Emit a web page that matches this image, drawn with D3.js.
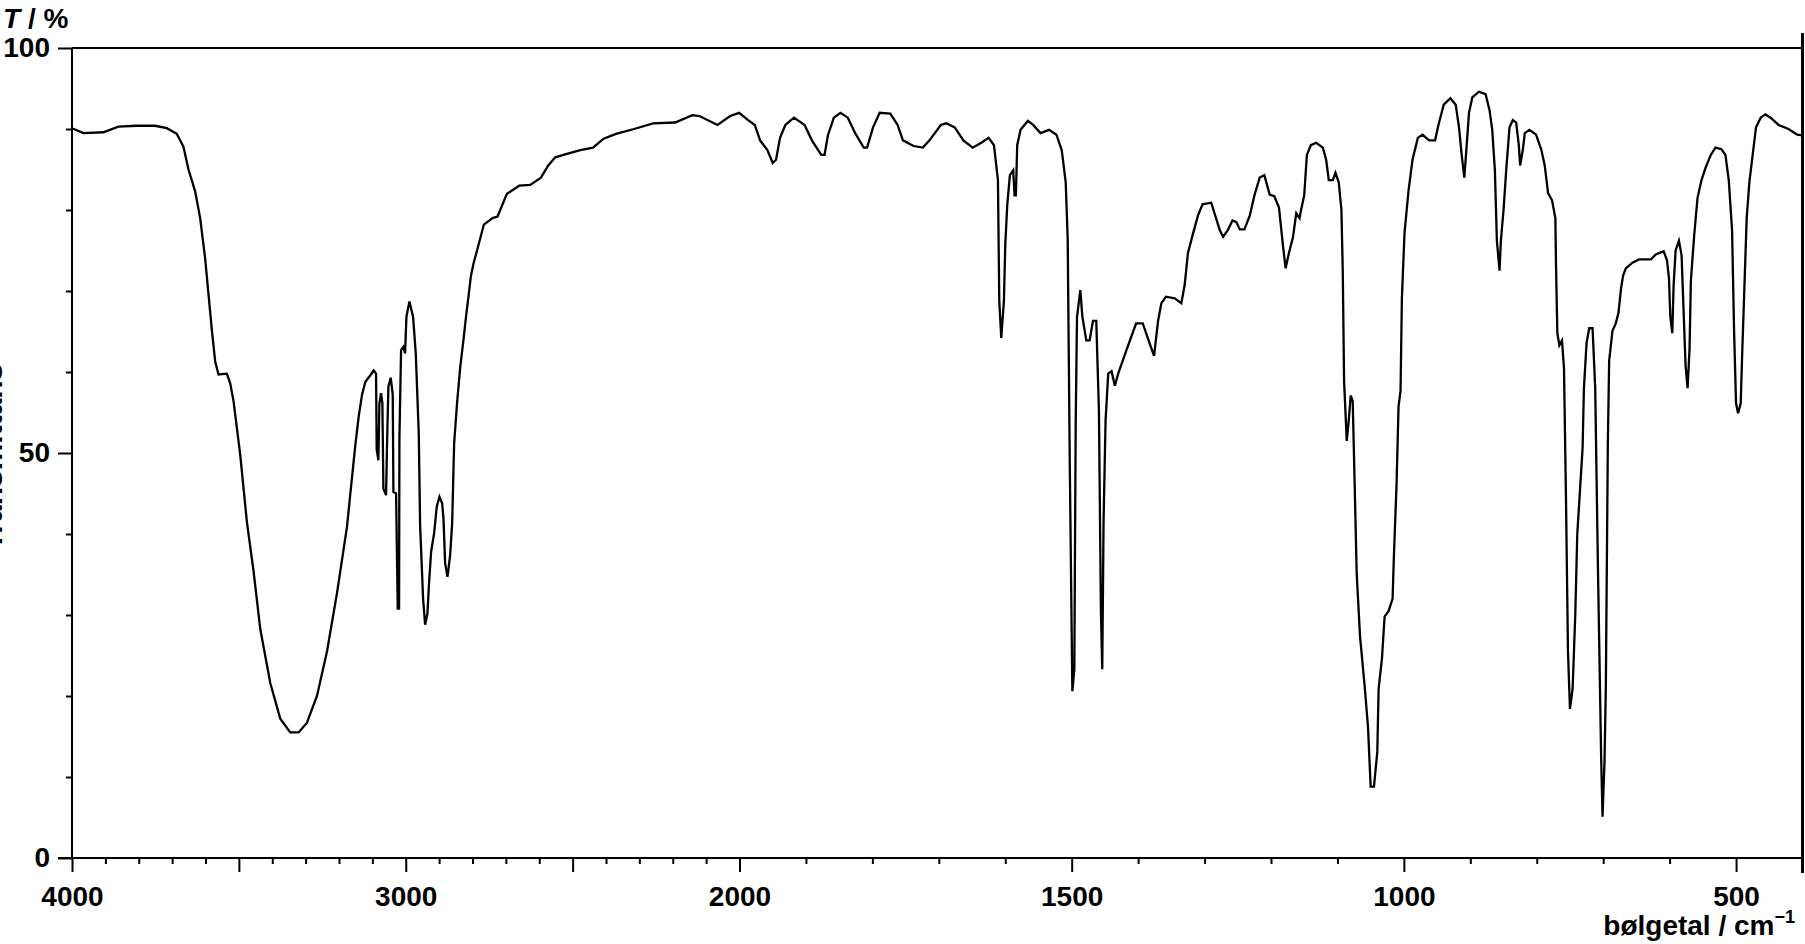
<!DOCTYPE html>
<html>
<head>
<meta charset="utf-8">
<script src="https://cdn.jsdelivr.net/npm/d3@7/dist/d3.min.js"></script>
<style>
  html, body { margin: 0; padding: 0; background: #fff; }
  svg { display: block; }
  text { font-family: "Liberation Sans", Arial, Helvetica, sans-serif; }
</style>
</head>
<body>
<svg id="chart" width="1805" height="944"></svg>
<script>
// ---- data (wavenumber / cm^-1, transmittance / %) ----
const wavenumbers = [
4000,3966,3906,3861,3806,3751,3716,3686,3666,3651,3631,3616,3601,3591,3581,3571,3561,3536,3526,3516,
3496,3476,3456,3436,3406,3376,3346,3321,3296,3266,3236,3206,3176,3166,3151,3141,3131,3121,3106,3096,
3089,3087,3082,3079,3074,3070,3067,3059,3056,3052,3045,3039,3037,3029,3024,3020,3019,3014,3007,3002,
2998,2989,2978,2970,2961,2957,2948,2942,2935,2930,2924,2915,2907,2899,2891,2887,2882,2875,2867,2861,
2855,2846,2837,2827,2819,2812,2805,2797,2787,2766,2740,2725,2697,2660,2627,2595,2573,2552,2520,2477,
2439,2407,2370,2316,2259,2193,2141,2120,2066,2028,2001,1987,1977,1969,1958,1950,1945,1939,1931,1918,
1902,1891,1877,1872,1867,1858,1848,1837,1826,1813,1808,1799,1789,1773,1762,1754,1738,1724,1714,1697,
1689,1676,1663,1649,1636,1625,1617,1611,1609,1606,1602,1600,1597,1593,1588,1586,1584,1582,1577,1566,
1558,1547,1534,1523,1515,1509,1506,1503,1499,1496,1494,1492,1487,1484,1478,1473,1468,1463,1459,1456,
1454,1452,1449,1445,1440,1435,1430,1418,1403,1393,1383,1376,1370,1365,1358,1345,1335,1330,1325,1318,
1310,1303,1290,1285,1277,1272,1265,1258,1252,1247,1240,1232,1225,1217,1210,1202,1195,1188,1182,1178,
1173,1167,1162,1157,1155,1150,1146,1140,1132,1122,1117,1113,1107,1103,1098,1094,1092,1090,1086,1083,
1080,1077,1074,1071,1066,1059,1054,1050,1045,1040,1038,1033,1029,1023,1017,1015,1011,1008,1005,1003,
999,993,987,979,972,962,953,948,940,930,922,917,913,909,906,902,897,887,877,871,
867,863,860,856,854,850,846,841,836,831,827,825,821,818,811,801,793,788,783,777,
772,771,769,766,762,759,756,753,750,746,742,739,735,731,729,725,721,716,712,708,
703,701,698,696,693,691,686,681,677,673,670,666,656,646,628,621,609,604,601,599,
596,594,591,586,582,579,576,573,570,568,563,558,552,546,538,531,522,516,511,506,
503,500,497,493,491,487,484,480,475,470,463,456,448,436,421,408,400
];
const transmittance = [
90.1,89.5,89.6,90.3,90.4,90.4,90.1,89.4,87.8,85.0,82.3,79.0,74.0,69.6,65.2,61.3,59.7,59.8,58.6,56.4,
49.8,41.5,35.4,28.3,21.6,17.2,15.5,15.5,16.7,20.0,25.5,32.7,40.9,45.0,51.0,54.5,57.2,58.8,59.6,60.2,
59.8,50.4,49.1,56.1,57.4,56.1,45.6,44.8,51.2,58.2,59.3,57.2,45.2,45.0,30.8,30.8,51.8,62.7,63.1,62.3,
66.8,68.7,66.8,62.3,52.4,41.1,32.0,28.8,30.2,34.1,37.8,40.1,43.4,44.6,43.8,41.9,36.4,34.7,37.4,41.3,
51.2,56.3,60.5,64.0,67.0,69.3,71.8,73.4,74.9,78.2,79.0,79.2,82.0,83.0,83.1,84.0,85.5,86.5,86.9,87.4,
87.7,88.8,89.4,90.0,90.7,90.8,91.7,91.6,90.5,91.6,92.0,91.1,90.5,88.6,87.4,85.8,86.2,88.9,90.5,91.4,
90.5,88.6,86.8,86.8,89.2,91.4,92.0,91.4,89.5,87.7,87.7,90.2,92.0,91.9,90.5,88.6,87.9,87.7,88.6,90.5,
90.7,90.2,88.6,87.7,88.3,88.9,88.0,83.7,68.8,64.2,68.8,75.6,80.6,84.3,84.9,81.8,81.8,88.0,89.9,91.0,
90.5,89.5,89.9,89.3,87.4,83.4,76.4,49.6,20.6,23.3,53.4,66.8,70.1,66.9,63.9,63.9,66.3,66.3,55.2,30.5,
23.3,41.6,54.0,59.8,60.1,58.3,59.8,62.6,66.0,66.0,63.6,62.0,66.3,68.5,69.3,69.1,68.5,70.7,74.7,76.9,
79.3,80.7,80.9,79.6,77.5,76.7,77.5,78.7,78.5,77.6,77.6,79.3,81.8,84.0,84.3,81.9,81.7,80.3,75.6,72.8,
74.7,76.6,79.6,79.0,79.9,81.8,86.8,88.0,88.3,87.7,86.2,83.7,83.7,84.6,83.4,80.0,72.5,58.9,51.5,54.0,
57.1,56.4,45.9,35.1,27.4,21.2,16.2,8.8,8.8,13.1,20.9,24.6,29.8,30.5,32.0,37.3,46.2,55.8,57.7,69.1,
77.2,82.4,86.2,88.9,89.3,88.6,88.6,90.5,93.0,93.8,93.0,90.2,86.8,84.0,87.4,92.0,93.9,94.6,94.3,92.3,
89.9,84.9,76.2,72.5,76.2,80.0,84.9,90.2,91.1,90.8,88.0,85.5,87.4,89.5,89.9,89.3,87.4,85.5,82.1,81.2,
79.0,73.2,64.8,63.3,63.9,60.5,44.4,25.5,18.4,20.9,30.1,40.0,45.3,50.6,58.0,63.6,65.4,65.4,58.0,36.3,
12.2,5.1,11.9,21.2,51.2,61.4,65.1,66.0,67.3,70.4,71.9,72.8,73.5,73.9,73.9,74.5,74.9,73.8,71.6,66.9,
64.8,70.7,75.0,76.2,74.4,67.6,60.8,58.0,62.9,71.3,76.9,81.5,83.7,85.2,86.8,87.7,87.5,86.8,83.7,77.5,
65.1,56.1,54.9,56.1,61.7,71.6,79.0,83.4,86.8,90.2,91.4,91.8,91.4,90.5,90.0,89.3,89.2
];

// axis tick definitions
const xMajorTicks = [4000, 3500, 3000, 2500, 2000, 1500, 1000, 500];
const xLabelTicks = [4000, 3000, 2000, 1500, 1000, 500];
const xMinorTicks = [3900,3800,3700,3600,3400,3300,3200,3100,2900,2800,2700,2600,2400,2300,2200,2100,
                     1900,1800,1700,1600,1400,1300,1200,1100,900,800,700,600];
const yMajorTicks = [0, 50, 100];
const yMinorTicks = [10, 20, 30, 40, 60, 70, 80, 90];
const yTitle = "T";
const yUnit = " / %";
const xTitle = "bølgetal / cm";
const xTitleSup = "\u22121";
const sideLabel = "Transmittans";

// ---- layout ----
const svg = d3.select("#chart");
const plotLeft = 72, plotRight = 1802.5, plotTop = 48, plotBottom = 858;
const FONT = 28;

// IR convention: scale changes at 2000 cm^-1
const x = d3.scaleLinear().domain([4000, 2000, 400]).range([plotLeft, 739.5, plotRight]);
const y = d3.scaleLinear().domain([0, 100]).range([plotBottom, plotTop]);

const n = Math.min(wavenumbers.length, transmittance.length);
const data = wavenumbers.slice(0, n).map((w, i) => [w, transmittance[i]]);

// frame: top border and right thick edge
svg.append("line").attr("x1", plotLeft).attr("x2", plotRight).attr("y1", plotTop).attr("y2", plotTop)
  .attr("stroke", "#000").attr("stroke-width", 2);
svg.append("line").attr("x1", plotRight).attr("x2", plotRight).attr("y1", 33).attr("y2", 873)
  .attr("stroke", "#000").attr("stroke-width", 3);

// x axis
const gx = svg.append("g").attr("transform", `translate(0,${plotBottom})`);
gx.call(d3.axisBottom(x).tickValues(xMajorTicks).tickSize(14).tickPadding(14)
  .tickFormat(d => xLabelTicks.includes(d) ? d : ""));
const gxm = svg.append("g").attr("transform", `translate(0,${plotBottom})`);
gxm.call(d3.axisBottom(x).tickValues(xMinorTicks).tickSize(6).tickFormat(""));
gxm.select(".domain").remove();
gx.select(".domain").attr("d", `M${plotLeft - 14},0H${plotRight}`).attr("stroke-width", 2);

// y axis
const gy = svg.append("g").attr("transform", `translate(${plotLeft},0)`);
gy.call(d3.axisLeft(y).tickValues(yMajorTicks).tickSize(14).tickPadding(8));
const gym = svg.append("g").attr("transform", `translate(${plotLeft},0)`);
gym.call(d3.axisLeft(y).tickValues(yMinorTicks).tickSize(6).tickFormat(""));
gym.select(".domain").remove();
gy.select(".domain").attr("d", `M0,${plotTop}V${plotBottom}`).attr("stroke-width", 2);

svg.selectAll(".tick line").attr("stroke", "#000").attr("stroke-width", 2);
svg.selectAll(".tick text").attr("font-size", FONT).attr("font-weight", "bold")
  .attr("fill", "#000").style("font-family", "'Liberation Sans', Arial, sans-serif");

// spectrum
const line = d3.line().x(d => x(d[0])).y(d => y(d[1]));
svg.append("path").datum(data).attr("d", line)
  .attr("fill", "none").attr("stroke", "#000").attr("stroke-width", 2.3)
  .attr("stroke-linejoin", "miter");

// y title "T / %"
const t = svg.append("text").attr("x", 3).attr("y", 28).attr("font-size", FONT).attr("font-weight", "bold");
t.append("tspan").attr("font-style", "italic").text(yTitle);
t.append("tspan").text(yUnit);

// x title
const xt = svg.append("text").attr("x", 1795).attr("y", 935).attr("text-anchor", "end")
  .attr("font-size", FONT).attr("font-weight", "bold");
xt.append("tspan").text(xTitle);
xt.append("tspan").attr("font-size", 18).attr("dy", -12).text(xTitleSup);

// rotated side label, mostly beyond the left edge as in the reference
svg.append("text").attr("transform", "translate(2,457) rotate(-90)")
  .attr("text-anchor", "middle").attr("font-size", 30).attr("font-weight", "bold").text(sideLabel);
</script>
</body>
</html>
